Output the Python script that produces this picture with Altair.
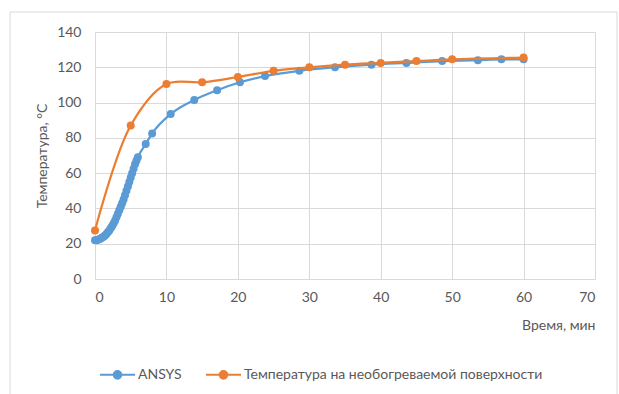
import altair as alt
import pandas as pd

# ANSYS series (time, min / temperature, °C)
ansys_t = [0, 0.2, 0.4, 0.6, 0.8, 1.0, 1.2, 1.4, 1.6, 1.8, 2.0, 2.2, 2.4, 2.6, 2.8,
           3.0, 3.2, 3.4, 3.6, 3.8, 4.0, 4.2, 4.4, 4.6, 4.8, 5.0, 5.2, 5.4, 5.6, 5.8,
           6.0, 7.1, 8.0, 10.6, 13.9, 17.1, 20.3, 23.8, 28.6, 33.6, 38.7, 43.6, 48.6,
           53.6, 56.9, 60.0]
ansys_y = [22, 22, 22.2, 22.5, 23, 23.5, 24, 24.7, 25.5, 26.5, 27.5, 28.7, 30, 31.5, 33,
           35, 37, 39, 41, 43, 45, 47.5, 50, 52.5, 55, 57.5, 60, 62.5, 65, 67,
           69, 76.5, 82.5, 93.5, 101.5, 107, 111.5, 115, 118, 120, 121.5, 122.5, 123.5,
           124, 124.5, 124.5]

# Measured surface temperature
surf_t = [0, 5, 10, 15, 20, 25, 30, 35, 40, 45, 50, 60]
surf_y = [27.5, 87, 110.5, 111.5, 114.5, 118, 120, 121.5, 122.5, 123.5, 124.5, 125.5]

series_names = ["ANSYS", "Температура на необогреваемой поверхности"]
series_colors = ["#5B9BD5", "#ED7D31"]

x_ticks = [0, 10, 20, 30, 40, 50, 60, 70]
y_ticks = [0, 20, 40, 60, 80, 100, 120, 140]

df = pd.concat([
    pd.DataFrame({"t": ansys_t, "y": ansys_y, "s": series_names[0]}),
    pd.DataFrame({"t": surf_t, "y": surf_y, "s": series_names[1]}),
], ignore_index=True)

FONT = "Lato"
GREY = "#595959"

x = alt.X("t:Q", scale=alt.Scale(domain=[0, 70], nice=False),
          axis=alt.Axis(values=x_ticks, title="Время, мин", titleAnchor="end",
                        titleAlign="right", titlePadding=14, labelPadding=11))
y = alt.Y("y:Q", scale=alt.Scale(domain=[0, 140], nice=False),
          axis=alt.Axis(values=y_ticks, title="Температура, °C", titlePadding=7,
                        labelPadding=14))

sym_path = ("M-1,0L1,0M0.22,0A0.22,0.22,0,1,1,-0.22,0A0.22,0.22,0,1,1,0.22,0Z")
legend = alt.Legend(
    title=None, orient="none", direction="horizontal", legendX=4, legendY=324,
    symbolType=sym_path, symbolSize=1225, labelFontSize=14, labelColor=GREY,
    labelFont=FONT, columnPadding=20, labelOffset=2, symbolStrokeWidth=2,
    symbolOpacity=1, labelLimit=0,
)
color = alt.Color("s:N", scale=alt.Scale(domain=series_names, range=series_colors),
                  legend=legend, sort=series_names)

blue_line = alt.Chart(df[df.s == series_names[0]]).mark_line(
    strokeWidth=2.25, interpolate="monotone").encode(x=x, y=y, color=color)
orange_line = alt.Chart(df[df.s == series_names[1]]).mark_line(
    strokeWidth=2.25, interpolate="catmull-rom").encode(x=x, y=y, color=color)
blue_pts = alt.Chart(df[df.s == series_names[0]]).mark_point(
    filled=True, size=64, opacity=1).encode(x=x, y=y, color=color)
orange_pts = alt.Chart(df[df.s == series_names[1]]).mark_point(
    filled=True, size=64, opacity=1).encode(x=x, y=y, color=color)

frame = alt.Chart(pd.DataFrame({"a": [0]})).mark_rect(
    fill="transparent", stroke="#d9d9d9", strokeWidth=1).encode(
    x=alt.value(-85), x2=alt.value(522), y=alt.value(-20), y2=alt.value(420))

chart = alt.layer(frame, blue_line, blue_pts, orange_line, orange_pts).properties(
    width=500, height=247,
    padding={"left": 95, "top": 32, "right": 24, "bottom": 115},
    autosize=alt.AutoSizeParams(type="none"),
    background="white",
).configure_view(stroke="#d9d9d9").configure_axis(
    grid=True, gridColor="#d9d9d9", gridWidth=1, domain=False, ticks=False,
    labelFont=FONT, labelFontSize=14, labelColor=GREY,
    titleFont=FONT, titleFontSize=14, titleColor=GREY, titleFontWeight="normal",
)

chart.save("out.html", embed_options={"renderer": "svg", "actions": False})
